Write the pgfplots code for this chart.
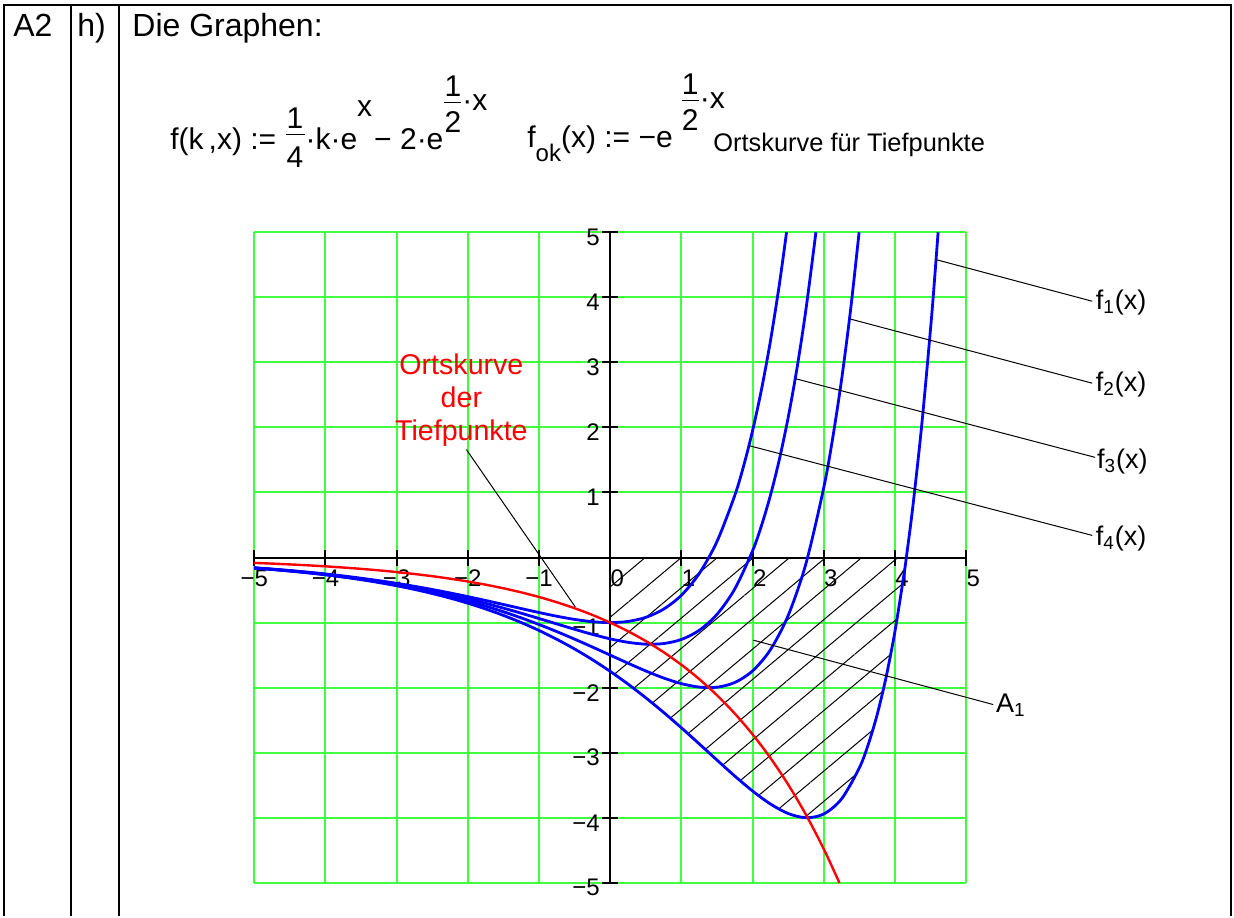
\documentclass[border=0pt]{standalone}
\usepackage{fontspec}
\setmainfont{Liberation Sans}
\usepackage{pgfplots}
\pgfplotsset{compat=1.18}
\usepgfplotslibrary{fillbetween}
\usetikzlibrary{patterns.meta}
\definecolor{gridgreen}{RGB}{64,255,64}
\definecolor{mcblue}{RGB}{0,0,255}
\definecolor{mcred}{RGB}{255,0,0}

% fraction set the MathCad way: bar width, num, den, num raise, bar raise, den raise
\newcommand{\fr}[6]{\mbox{\hspace{0.5pt}\rlap{\raisebox{#4}{\makebox[#1]{#2}}}%
  \rlap{\raisebox{#5}{\rule{#1}{0.75pt}}}\raisebox{#6}{\makebox[#1]{#3}}\hspace{0.5pt}}}

\begin{document}
\begin{tikzpicture}
\path (0,0) rectangle (617pt,458pt);

% table frame
\draw[line width=1.2pt] (2pt,0) -- (2pt,455.5pt) -- (615.5pt,455.5pt) -- (615.5pt,0);
\draw[line width=1.2pt] (35.5pt,0) -- (35.5pt,455.5pt);
\draw[line width=1.2pt] (59.5pt,0) -- (59.5pt,455.5pt);

\begin{scope}[every node/.style={inner sep=0pt, anchor=base west}]
\node[font=\fontsize{16}{19}\selectfont] at (6.5pt,439.5pt) {A2};
\node[font=\fontsize{16}{19}\selectfont] at (38.5pt,439.5pt) {h)};
\node[font=\fontsize{16}{19}\selectfont] at (66pt,439.5pt) {Die Graphen:};
\node[font=\fontsize{15}{18}\selectfont] at (85pt,383pt)
  {f(k\,,x)\ :=\ \fr{9.5pt}{1}{4}{10.8pt}{7.3pt}{-9pt}·k·e\raisebox{16.5pt}{x}\hspace{1pt}−\ 2·e\fr{8.5pt}{1}{2}{26.8pt}{23.3pt}{8.5pt}\raisebox{19.5pt}{·x}};
\node[font=\fontsize{15}{18}\selectfont] at (263.5pt,384pt)
  {f\raisebox{-7pt}{\fontsize{12}{12}\selectfont ok}(x)\ :=\ −e\hspace{4pt}\fr{8.5pt}{1}{2}{26.8pt}{23.3pt}{8.5pt}\raisebox{19.5pt}{·x}};
\node[font=\fontsize{12.7}{14}\selectfont] at (356.5pt,382pt) {Ortskurve für Tiefpunkte};
\end{scope}

\begin{axis}[
  at={(127.1pt,16.6pt)}, anchor=south west,
  scale only axis, width=356pt, height=325.25pt,
  xmin=-5, xmax=5, ymin=-5, ymax=5,
  axis lines=middle, axis line style={-, line width=1pt, black},
  xtick={-5,...,5}, ytick={-5,...,5},
  xticklabels={\llap{−}5,\llap{−}4,\llap{−}3,\llap{−}2,\llap{−}1,0,1,2,3,4,5},
  yticklabels={−5,−4,−3,−2,−1,,1,2,3,4,5},
  hide obscured x ticks=false, hide obscured y ticks=false,
  tick align=center, major tick length=8pt,
  tick style={black, line width=1pt},
  grid=major, grid style={gridgreen, line width=1pt},
  major grid style={gridgreen, line width=1pt},
  ticklabel style={font=\fontsize{12}{14}\selectfont},
  xticklabel style={anchor=north west, inner sep=0pt, yshift=-2pt},
  yticklabel style={anchor=east, inner sep=0pt, xshift=-1pt, yshift=-2.5pt},
  clip=false,
]
% k = 1
\addplot[mcblue, line width=1.4pt, smooth, name path=fone] coordinates {
(-5,-0.1625) (-4.75,-0.1839) (-4.5,-0.2080) (-4.25,-0.2353) (-4,-0.2661)
(-3.75,-0.3008) (-3.5,-0.3400) (-3.25,-0.3841) (-3,-0.4338) (-2.75,-0.4897)
(-2.5,-0.5525) (-2.25,-0.6230) (-2,-0.7019) (-1.75,-0.7903) (-1.5,-0.8890)
(-1.25,-0.9989) (-1,-1.1211) (-0.75,-1.2565) (-0.5,-1.4060) (-0.25,-1.5703)
(0,-1.75) (0.25,-1.9453) (0.5,-2.1559) (0.75,-2.3807) (1,-2.6179)
(1.25,-2.8639) (1.5,-3.1136) (1.75,-3.3591) (2,-3.5893) (2.25,-3.7885)
(2.5,-3.9351) (2.75,-3.9995) (3,-3.9420) (3.25,-3.7093) (3.5,-3.2304)
(3.625,-2.8703) (3.75,-2.4114) (3.875,-1.8371) (4,-1.1286) (4.125,-0.2643)
(4.1589,0) (4.25,0.7806) (4.375,2.0342) (4.5,3.5288) (4.55,4.2023) (4.6052,5)};
\addplot[draw=none, name path=zero] coordinates {(0,0) (4.2,0)};
\addplot[pattern={Lines[angle=40,distance=11.6pt,line width=0.5pt]}, pattern color=black]
  fill between[of=fone and zero, soft clip={domain=0:4.1589}];
% k = 2
\addplot[mcblue, line width=1.4pt, smooth] coordinates {
(-5,-0.1608) (-4.75,-0.1817) (-4.5,-0.2052) (-4.25,-0.2317) (-4,-0.2615)
(-3.75,-0.2950) (-3.5,-0.3325) (-3.25,-0.3744) (-3,-0.4214) (-2.75,-0.4737)
(-2.5,-0.5320) (-2.25,-0.5966) (-2,-0.6681) (-1.75,-0.7468) (-1.5,-0.8332)
(-1.25,-0.9273) (-1,-1.0291) (-0.75,-1.1384) (-0.5,-1.2543) (-0.25,-1.3756)
(0,-1.5) (0.25,-1.6243) (0.5,-1.7437) (0.75,-1.8515) (1,-1.9383)
(1.25,-1.9913) (1.5,-1.9932) (1.75,-1.9205) (2,-1.7420) (2.25,-1.4166)
(2.5,-0.8894) (2.75,-0.0888) (3,1.0794) (3.125,1.8385) (3.25,2.7383)
(3.375,3.8003) (3.4955,5)};
% k = 3
\addplot[mcblue, line width=1.4pt, smooth] coordinates {
(-5,-0.1591) (-4.75,-0.1795) (-4.5,-0.2025) (-4.25,-0.2282) (-4,-0.2569)
(-3.75,-0.2891) (-3.5,-0.3249) (-3.25,-0.3647) (-3,-0.4089) (-2.75,-0.4577)
(-2.5,-0.5115) (-2.25,-0.5703) (-2,-0.6343) (-1.75,-0.7034) (-1.5,-0.7774)
(-1.25,-0.8556) (-1,-0.9372) (-0.75,-1.0203) (-0.5,-1.1027) (-0.25,-1.1809)
(0,-1.25) (0.25,-1.3033) (0.5,-1.3315) (0.75,-1.3222) (1,-1.2587)
(1.25,-1.1187) (1.5,-0.8727) (1.75,-0.4818) (2,0.1052) (2.125,0.4925)
(2.25,0.9554) (2.375,1.5055) (2.5,2.1562) (2.625,2.9225) (2.75,3.8218)
(2.8888,5)};
% k = 4
\addplot[mcblue, line width=1.4pt, smooth] coordinates {
(-5,-0.1574) (-4.75,-0.1774) (-4.5,-0.1997) (-4.25,-0.2246) (-4,-0.2524)
(-3.75,-0.2832) (-3.5,-0.3174) (-3.25,-0.3551) (-3,-0.3965) (-2.75,-0.4418)
(-2.5,-0.4909) (-2.25,-0.5439) (-2,-0.6004) (-1.75,-0.6600) (-1.5,-0.7216)
(-1.25,-0.7840) (-1,-0.8452) (-0.75,-0.9022) (-0.5,-0.9511) (-0.25,-0.9862)
(0,-1) (0.25,-0.9823) (0.5,-0.9193) (0.75,-0.7930) (1,-0.5792)
(1.25,-0.2462) (1.5,0.2477) (1.75,0.9569) (1.875,1.4136) (2,1.9525)
(2.125,2.5857) (2.25,3.3273) (2.375,4.1933) (2.4765,5)};
% Ortskurve
\addplot[mcred, line width=1.2pt, smooth] coordinates {
(-5,-0.0821) (-4.75,-0.0930) (-4.5,-0.1054) (-4.25,-0.1194) (-4,-0.1353)
(-3.75,-0.1534) (-3.5,-0.1738) (-3.25,-0.1969) (-3,-0.2231) (-2.75,-0.2528)
(-2.5,-0.2865) (-2.25,-0.3247) (-2,-0.3679) (-1.75,-0.4169) (-1.5,-0.4724)
(-1.25,-0.5353) (-1,-0.6065) (-0.75,-0.6873) (-0.5,-0.7788) (-0.25,-0.8825)
(0,-1) (0.25,-1.1331) (0.5,-1.2840) (0.75,-1.4550) (1,-1.6487)
(1.25,-1.8682) (1.5,-2.1170) (1.75,-2.3989) (2,-2.7183) (2.25,-3.0802)
(2.5,-3.4903) (2.75,-3.9551) (3,-4.4817) (3.2189,-5)};

% leaders and labels
\begin{scope}[line width=0.5pt]
\draw (axis cs:4.575,4.58) -- (axis cs:6.77,3.94);
\draw (axis cs:3.36,3.67) -- (axis cs:6.77,2.68);
\draw (axis cs:2.60,2.75) -- (axis cs:6.81,1.54);
\draw (axis cs:1.95,1.72) -- (axis cs:6.77,0.34);
\draw (axis cs:2.01,-1.27) -- (axis cs:5.38,-2.26);
\draw (axis cs:-2.02,1.66) -- (axis cs:-0.49,-0.76);
\end{scope}
\begin{scope}[every node/.style={anchor=west, inner sep=0.5pt, font=\fontsize{13.5}{15}\selectfont}]
\node at (axis cs:6.80,3.92) {f\textsubscript{1}(x)};
\node at (axis cs:6.80,2.66) {f\textsubscript{2}(x)};
\node at (axis cs:6.82,1.48) {f\textsubscript{3}(x)};
\node at (axis cs:6.80,0.30) {f\textsubscript{4}(x)};
\node at (axis cs:5.40,-2.27) {A\textsubscript{1}};
\end{scope}
\node[mcred, align=center, inner sep=0pt, font=\fontsize{14.3}{16.5}\selectfont]
  at (axis cs:-2.09,2.42) {Ortskurve\\der\\Tiefpunkte};
\end{axis}
\end{tikzpicture}
\end{document}
